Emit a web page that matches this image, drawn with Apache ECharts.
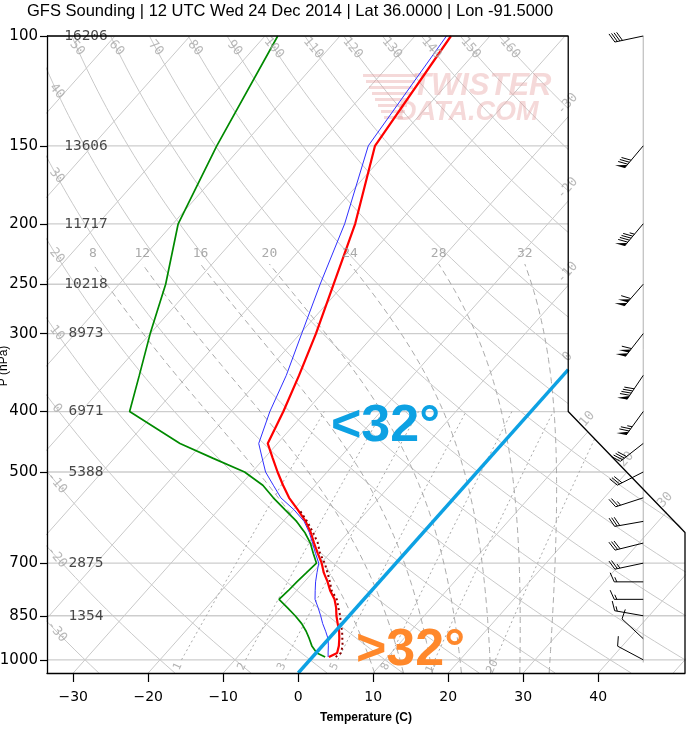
<!DOCTYPE html>
<html><head><meta charset="utf-8">
<script src="https://cdn.jsdelivr.net/npm/echarts@6/dist/echarts.min.js"></script>
<style>html,body{margin:0;padding:0;background:#fff}#main{width:694px;height:729px}</style>
</head><body><div id="main"></div>
<script>
// ---------------- data ----------------
const levels = [990, 975, 950, 925, 900, 875, 850, 825, 800, 775, 750, 725, 700, 675, 650, 625, 600, 575, 550, 525, 500, 475, 450, 400, 350, 300, 250, 200, 150, 100];
const temperature = [2.2, 2.8, 2.2, 1.4, 0.5, -0.6, -1.7, -2.7, -3.9, -5.5, -6.9, -8.5, -9.9, -11.6, -13.3, -15.0, -17.0, -19.4, -22.0, -24.3, -26.6, -28.9, -31.3, -33.0, -35.2, -37.9, -41.4, -45.7, -52.3, -55.2];
const wetBulb = [2.1, 1.6, 0.8, -0.1, -1.3, -2.6, -3.8, -5.1, -6.5, -7.5, -8.5, -9.4, -10.3, -11.9, -13.5, -15.2, -17.2, -19.9, -23.1, -25.6, -28.2, -30.3, -32.5, -34.8, -36.9, -39.8, -43.2, -47.1, -53.2, -55.8];
const dewpoint = [1.7, 0.1, -1.4, -2.6, -3.9, -5.4, -7.2, -9.2, -11.3, -11.1, -11.0, -10.8, -10.6, -12.2, -13.8, -15.8, -18.2, -21.1, -24.1, -27.0, -31.0, -36.9, -43.0, -53.5, -56.5, -60.0, -63.8, -69.3, -73.4, -78.3];
const virtualLevels = [990, 975, 950, 925, 900, 875, 850, 825, 800, 775, 750, 725, 700, 675, 650, 625, 600, 575];
const virtualTemp = [3.1, 3.3, 2.7, 1.8, 0.9, -0.2, -1.2, -2.4, -3.6, -5.3, -6.6, -8.0, -9.5, -11.3, -12.8, -14.7, -16.8, -19.2];

const heightLevels = [100, 150, 200, 250, 300, 400, 500, 700, 850];
const heights = [16206, 13606, 11717, 10218, 8973, 6971, 5388, 2875, 1354];

const windLevels = [100, 150, 200, 250, 300, 350, 400, 450, 500, 550, 600, 650, 700, 750, 800, 850, 925, 1000];
const windDir = [258, 220, 220, 221, 218, 214, 216, 232, 243, 252, 260, 256, 258, 270, 270, 280, 313, 298];
const windSpeed = [40, 80, 95, 110, 110, 90, 75, 40, 30, 25, 30, 30, 25, 15, 15, 15, 10, 10];

const pressureTicks = [100, 150, 200, 250, 300, 400, 500, 700, 850, 1000];
const tempTicks = [-30, -20, -10, 0, 10, 20, 30, 40];

const isotherms = [-100, -90, -80, -70, -60, -50, -40, -30, -20, -10, 0, 10, 20, 30, 40, 50];
const isothermLabels = [-30, -20, -10, 0, 10, 20, 30];
const dryAdiabats = [-30, -20, -10, 0, 10, 20, 30, 40, 50, 60, 70, 80, 90, 100, 110, 120, 130, 140, 150, 160];
const moistAdiabats = [8, 12, 16, 20, 24, 28, 32];
const mixingRatios = [1, 2, 3, 5, 8, 12, 20];

// ---------------- diagram geometry ----------------
const SKEW = 74, P_BOT = 1050, P_TOP = 100;
const X_MIN = -33.5, X_MAX = 51.57;
const FRAME_X = 36, FRAME_P = 400, RIGHT_P = 625;
const BARB_X = 46, BARB_BOTTOM_P = 1010;
const HEIGHT_X = -28.3;
const MOIST_TOP = 232, MIX_TOP = 400, MIX_BOT = 1000, MIX_LABEL_P = 1025;
const DRY_LAB_X = -32.2, DRY_LAB_TOP_P = 104.6;

const ly = p => Math.log10(p);
const sx = (T, p) => T + SKEW * Math.log10(P_BOT / p);
const pt = (T, p) => [sx(T, p), ly(p)];

function esat(Tc) { return 6.112 * Math.exp(17.67 * Tc / (Tc + 243.5)); }
function rsat(Tc, p) { const e = esat(Tc); return 0.622 * e / (p - e); }
function moistLapse(Tk, p) {
  const Rd = 287.04, cp = 1005.7, Lv = 2.501e6, eps = 0.622;
  const r = rsat(Tk - 273.15, p);
  return ((Rd * Tk + Lv * r) / p) / (cp + (Lv * Lv * r * eps) / (Rd * Tk * Tk));
}
function moistCurve(thw) {
  const up = [], down = [];
  let T = thw + 273.15, p = 1000;
  up.push([T, p]);
  while (p > MOIST_TOP) {
    const h = -Math.min(2, p - MOIST_TOP);
    const k1 = moistLapse(T, p), k2 = moistLapse(T + h * k1, p + h);
    T += h * (k1 + k2) / 2; p += h; up.push([T, p]);
  }
  T = thw + 273.15; p = 1000;
  while (p < P_BOT) {
    const h = Math.min(2, P_BOT - p);
    const k1 = moistLapse(T, p), k2 = moistLapse(T + h * k1, p + h);
    T += h * (k1 + k2) / 2; p += h; down.push([T, p]);
  }
  return down.reverse().concat(up).map(([Tk, pp]) => pt(Tk - 273.15, pp));
}
const dryT = (th, p) => (th + 273.15) * Math.pow(p / 1000, 0.2857) - 273.15;
function mixT(w, p) {
  const e = (w / 1000) * p / (0.622 + w / 1000);
  const l = Math.log(e / 6.112);
  return 243.5 * l / (17.67 - l);
}

// ---------------- series ----------------
const series = [];
function lineS(data, ls, z, extra) {
  return Object.assign({ type: 'line', data, showSymbol: false, symbol: 'none', silent: true,
    animation: false, z, lineStyle: ls }, extra || {});
}
function labelS(items, style, z) {
  return { type: 'scatter', silent: true, animation: false, z, symbolSize: 1,
    itemStyle: { color: 'rgba(0,0,0,0)' },
    data: items.map(it => ({ value: it.pos,
      label: Object.assign({ show: true, position: 'inside', formatter: it.text }, style, it.label || {}) })) };
}

// pressure grid lines
pressureTicks.forEach(p => series.push(lineS([[X_MIN, ly(p)], [X_MAX, ly(p)]], { color: '#cdcdcd', width: 1.3 }, 1)));
// isotherms
isotherms.forEach(T => series.push(lineS([pt(T, P_BOT), pt(T, P_TOP)], { color: '#c9c9c9', width: 1 }, 1)));
// dry adiabats
dryAdiabats.forEach(th => {
  const d = [];
  for (let k = 0; k <= 80; k++) { const p = P_BOT * Math.pow(P_TOP / P_BOT, k / 80); d.push(pt(dryT(th, p), p)); }
  series.push(lineS(d, { color: '#c9c9c9', width: 1 }, 1));
});
// moist adiabats
moistAdiabats.forEach(th => series.push(lineS(moistCurve(th), { color: '#a9a9a9', width: 1, type: [6, 4] }, 1)));
// mixing ratio lines
mixingRatios.forEach(w => {
  const d = [];
  for (let p = MIX_BOT; p >= MIX_TOP; p -= 20) d.push(pt(mixT(w, p), p));
  series.push(lineS(d, { color: '#a9a9a9', width: 1, type: [2, 3] }, 1));
});

// white mask for the wind-barb corner
series.push({ type: 'custom', silent: true, animation: false, z: 3,
  data: [[FRAME_X, ly(P_TOP)]],
  renderItem: (params, api) => {
    const pts = [[FRAME_X, P_TOP], [X_MAX, P_TOP], [X_MAX, RIGHT_P], [FRAME_X, FRAME_P]]
      .map(q => api.coord([q[0], ly(q[1])]));
    pts[0][1] -= 1; pts[1][1] -= 1; pts[1][0] += 2; pts[2][0] += 2;
    return { type: 'polygon', shape: { points: pts }, style: { fill: '#ffffff' } };
  } });

// background labels
const grayLab = { fontFamily: 'DejaVu Sans Mono', fontSize: 13, color: '#a8a8a8' };
// isotherm labels on the right frame
const diag0 = [FRAME_X, ly(FRAME_P)], diag1 = [X_MAX, ly(RIGHT_P)];
series.push(labelS(isothermLabels.map(T => {
  let p = P_BOT / Math.pow(10, (FRAME_X - T) / SKEW), pos;
  if (p <= FRAME_P) pos = [FRAME_X, ly(p)];
  else {
    const C = T + SKEW * ly(P_BOT), dx = diag1[0] - diag0[0], dy = diag1[1] - diag0[1];
    const t = (C - diag0[0] - SKEW * diag0[1]) / (dx + SKEW * dy);
    pos = [diag0[0] + t * dx, diag0[1] + t * dy];
  }
  return { pos, text: String(T), label: { rotate: 48, offset: [9, -9] } };
}), grayLab, 6));
// dry adiabat labels
series.push(labelS(dryAdiabats.map(th => {
  let p = DRY_LAB_TOP_P;
  if (sx(dryT(th, p), p) < DRY_LAB_X) {
    let lo = DRY_LAB_TOP_P, hi = P_BOT;
    for (let i = 0; i < 50; i++) { const m = (lo + hi) / 2; if (sx(dryT(th, m), m) < DRY_LAB_X) lo = m; else hi = m; }
    p = (lo + hi) / 2;
  }
  return { pos: pt(dryT(th, p), p), text: String(th), label: { rotate: -50 } };
}), grayLab, 6));
// moist adiabat labels
series.push(labelS(moistAdiabats.map(th => {
  const c = moistCurve(th); const top = c[c.length - 1];
  return { pos: top, text: String(th), label: { offset: [0, -10] } };
}), { fontFamily: 'DejaVu Sans Mono', fontSize: 13, color: '#959595' }, 6));
// mixing ratio labels
series.push(labelS(mixingRatios.map(w => ({ pos: pt(mixT(w, MIX_LABEL_P), MIX_LABEL_P), text: String(w), label: { rotate: 65 } })),
  { fontFamily: 'DejaVu Sans Mono', fontSize: 11, color: '#a0a0a0' }, 6));
// heights
series.push(labelS(heightLevels.map((p, i) => ({ pos: [HEIGHT_X, ly(p)], text: String(heights[i]) })),
  { fontFamily: 'DejaVu Sans Mono', fontSize: 14.5, color: '#1a1a1a' }, 6));

// sounding curves
series.push(lineS(levels.map((p, i) => pt(dewpoint[i], p)), { color: '#008a00', width: 1.7 }, 4));
series.push(lineS(levels.map((p, i) => pt(wetBulb[i], p)), { color: '#3030ff', width: 1 }, 4));
series.push(lineS(levels.map((p, i) => pt(temperature[i], p)), { color: '#ff0000', width: 2.2 }, 5));
series.push(lineS(virtualLevels.map((p, i) => pt(virtualTemp[i], p)), { color: '#8b0000', width: 2, type: [2, 3] }, 5));

// highlighted 0 C isotherm
series.push(lineS([pt(0, P_BOT), pt(0, P_BOT / Math.pow(10, FRAME_X / SKEW))], { color: '#0da1e3', width: 3.4 }, 7));

// frame
series.push(lineS([[X_MIN, ly(P_TOP)], [FRAME_X, ly(P_TOP)], [FRAME_X, ly(FRAME_P)], [X_MAX, ly(RIGHT_P)], [X_MAX, ly(P_BOT)]],
  { color: '#000', width: 1.3 }, 8, { clip: false }));

// wind barb column
series.push(lineS([[BARB_X, ly(P_TOP)], [BARB_X, ly(BARB_BOTTOM_P)]], { color: '#b0b0b0', width: 1 }, 6, { clip: false }));
series.push({ type: 'custom', silent: true, animation: false, z: 9, clip: false,
  data: windLevels.map((p, i) => [BARB_X, ly(p), windDir[i], windSpeed[i]]),
  encode: { x: 0, y: 1 },
  renderItem: (params, api) => {
    const base = api.coord([api.value(0), api.value(1)]);
    const dir = api.value(2) * Math.PI / 180;
    let s = Math.round(api.value(3) / 5) * 5;
    const L = 29, FL = 10, SP = 2.6, a = 66 * Math.PI / 180;
    const ux = Math.sin(dir), uy = -Math.cos(dir);
    const tip = [base[0] + ux * L, base[1] + uy * L];
    const fx = ux * Math.cos(a) - uy * Math.sin(a), fy = ux * Math.sin(a) + uy * Math.cos(a);
    const st = { stroke: '#000', lineWidth: 1 };
    const ch = [{ type: 'line', shape: { x1: base[0], y1: base[1], x2: tip[0], y2: tip[1] }, style: st }];
    let d = 0;
    const at = dd => [tip[0] - ux * dd, tip[1] - uy * dd];
    while (s >= 50) {
      const A = at(d), C = at(d + 4), B = [A[0] + fx * FL, A[1] + fy * FL];
      ch.push({ type: 'polygon', shape: { points: [A, B, C] }, style: { fill: '#000' } });
      d += 5; s -= 50;
    }
    while (s >= 10) {
      const A = at(d);
      ch.push({ type: 'line', shape: { x1: A[0], y1: A[1], x2: A[0] + fx * FL, y2: A[1] + fy * FL }, style: st });
      d += SP; s -= 10;
    }
    if (s >= 5) {
      if (d === 0) d = SP;
      const A = at(d);
      ch.push({ type: 'line', shape: { x1: A[0], y1: A[1], x2: A[0] + fx * FL / 2, y2: A[1] + fy * FL / 2 }, style: st });
    }
    return { type: 'group', children: ch };
  } });

// ---------------- chart ----------------
const chart = echarts.init(document.getElementById('main'));
const wmFill = 'rgba(226,150,150,0.36)';
const stripes = [];
for (let i = 0; i < 8; i++) stripes.push({ type: 'rect', z: 2, shape: { x: 363 + i * 3, y: 74 + i * 6, width: 54 - i * 5, height: 3 }, style: { fill: wmFill } });
chart.setOption({
  animation: false,
  backgroundColor: '#ffffff',
  title: { text: 'GFS Sounding | 12 UTC Wed 24 Dec 2014 | Lat 36.0000 | Lon -91.5000', left: 27, top: 3, padding: 0,
    textStyle: { fontFamily: 'Liberation Sans', fontSize: 16.5, fontWeight: 'normal', color: '#000' } },
  grid: { left: 47, right: 9, top: 36, bottom: 56, containLabel: false, outerBoundsMode: 'none' },
  xAxis: { type: 'value', min: X_MIN, max: X_MAX, z: 10,
    name: 'Temperature (C)', nameLocation: 'middle', nameGap: 39,
    nameTextStyle: { fontFamily: 'Liberation Sans', fontSize: 12, fontWeight: 'bold', color: '#000' },
    axisLine: { onZero: false, lineStyle: { color: '#000', width: 1.3 } },
    axisTick: { customValues: tempTicks, length: 9, lineStyle: { color: '#000', width: 1.2 } },
    axisLabel: { customValues: tempTicks, margin: 17, fontFamily: 'DejaVu Sans', fontSize: 14, color: '#000',
      formatter: v => (v < 0 ? '\u2212' + Math.abs(v) : String(v)) },
    splitLine: { show: false } },
  yAxis: { type: 'value', inverse: true, min: ly(P_TOP), max: ly(P_BOT), z: 10,
    axisLine: { onZero: false, lineStyle: { color: '#000', width: 1.3 } },
    axisTick: { customValues: pressureTicks.map(ly), length: 7, lineStyle: { color: '#000', width: 1.2 } },
    axisLabel: { customValues: pressureTicks.map(ly), margin: 9, fontFamily: 'DejaVu Sans', fontSize: 15, color: '#000',
      formatter: v => String(Math.round(Math.pow(10, v))) },
    splitLine: { show: false } },
  graphic: stripes.concat([
    { type: 'text', z: 2, x: 412, y: 86, style: { text: 'TWISTER', font: 'italic bold 31px "Liberation Sans"', fill: wmFill, verticalAlign: 'middle' } },
    { type: 'text', z: 2, x: 397, y: 113, style: { text: 'DATA.COM', font: 'italic bold 27px "Liberation Sans"', fill: wmFill, verticalAlign: 'middle' } },
    { type: 'text', z: 20, x: 331, y: 427, style: { text: '<32°', font: 'bold 52px "Liberation Sans"', fill: '#0da1e3', verticalAlign: 'middle' } },
    { type: 'text', z: 20, x: 356, y: 651, style: { text: '>32°', font: 'bold 52px "Liberation Sans"', fill: '#ff882b', verticalAlign: 'middle' } },
    { type: 'text', z: 20, x: 4, y: 366, rotation: Math.PI / 2, style: { text: 'P (hPa)', font: '12px "Liberation Sans"', fill: '#000', align: 'center', verticalAlign: 'middle' } }
  ]),
  series
});
</script>
</body></html>
